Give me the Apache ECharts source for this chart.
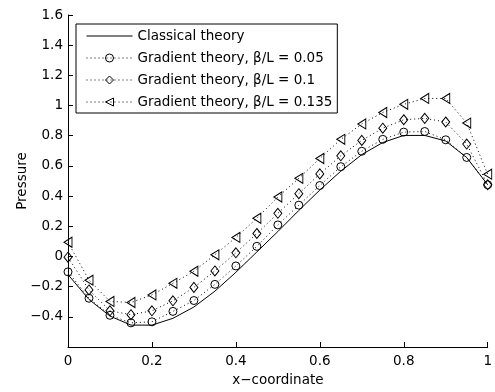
<!DOCTYPE html>
<html><head><meta charset="utf-8">
<script src="https://cdn.jsdelivr.net/npm/echarts@6/dist/echarts.min.js"></script>
<style>html,body{margin:0;padding:0;background:#fff}#c{width:495px;height:392px}</style>
</head><body><div id="c"></div>
<script>
const xValues = [0, 0.05, 0.1, 0.15, 0.2, 0.25, 0.3, 0.35, 0.4, 0.45, 0.5, 0.55, 0.6, 0.65, 0.7, 0.75, 0.8, 0.85, 0.9, 0.95, 1];
const classical = [-0.12, -0.285, -0.395, -0.455, -0.455, -0.41, -0.335, -0.23, -0.105, 0.03, 0.165, 0.305, 0.44, 0.565, 0.675, 0.755, 0.802, 0.802, 0.765, 0.655, 0.475];
const grad005 = [-0.102, -0.277, -0.39, -0.44, -0.433, -0.364, -0.292, -0.185, -0.063, 0.067, 0.209, 0.34, 0.47, 0.595, 0.697, 0.776, 0.824, 0.828, 0.773, 0.656, 0.475];
const grad010 = [-0.005, -0.222, -0.36, -0.386, -0.36, -0.294, -0.205, -0.096, 0.024, 0.152, 0.286, 0.416, 0.547, 0.667, 0.769, 0.85, 0.906, 0.915, 0.891, 0.745, 0.475];
const grad0135 = [0.094, -0.157, -0.298, -0.305, -0.255, -0.178, -0.098, 0.011, 0.126, 0.253, 0.394, 0.518, 0.649, 0.776, 0.878, 0.954, 1.008, 1.047, 1.047, 0.884, 0.545];
const seriesNames = ['Classical theory', 'Gradient theory, β/L = 0.05', 'Gradient theory, β/L = 0.1', 'Gradient theory, β/L = 0.135'];
const xAxisTitle = 'x−coordinate';
const yAxisTitle = 'Pressure';

const FONT = 'DejaVu Sans';
const FS = 13.5;
const pairs = arr => xValues.map((x, i) => [x, arr[i]]);
const fmt = v => {
  if (Math.abs(v + 0.6) < 1e-9) return '';
  return String(+v.toFixed(1)).replace('-', '\u2212');
};
const gradStyle = {
  type: 'line',
  showSymbol: true,
  lineStyle: { color: '#000', width: 1, type: [1, 3] },
  itemStyle: { color: 'rgba(0,0,0,0)', borderColor: '#000', borderWidth: 1 },
  silent: true,
  z: 3
};
const chart = echarts.init(document.getElementById('c'), null, { renderer: 'canvas' });
chart.setOption({
  animation: false,
  backgroundColor: '#fff',
  grid: { left: 68, right: 5, top: 15, bottom: 40 },
  legend: {
    left: 76, top: 24, orient: 'vertical',
    itemWidth: 46, itemHeight: 10, itemGap: 8,
    padding: [5, 5, 4, 10],
    borderColor: '#000', borderWidth: 1, backgroundColor: '#fff', borderRadius: 0,
    selectedMode: false,
    itemStyle: { borderWidth: 1 },
    lineStyle: { width: 1 },
    textStyle: { fontFamily: FONT, fontSize: FS, color: '#000' },
    data: seriesNames
  },
  xAxis: {
    type: 'value', min: 0, max: 1, interval: 0.2,
    axisLine: { onZero: false, lineStyle: { color: '#000', width: 1 } },
    axisTick: { inside: true, length: 5, lineStyle: { color: '#000' } },
    axisLabel: { color: '#000', fontFamily: FONT, fontSize: FS, margin: 7, formatter: fmt },
    splitLine: { show: false },
    name: xAxisTitle, nameLocation: 'middle', nameGap: 26, nameMoveOverlap: false,
    nameTextStyle: { color: '#000', fontFamily: FONT, fontSize: FS }
  },
  yAxis: {
    type: 'value', min: -0.6, max: 1.6, interval: 0.2,
    axisLine: { onZero: false, lineStyle: { color: '#000', width: 1 } },
    axisTick: { inside: true, length: 5, lineStyle: { color: '#000' } },
    axisLabel: { color: '#000', fontFamily: FONT, fontSize: FS, margin: 5, formatter: fmt },
    splitLine: { show: false },
    name: yAxisTitle, nameLocation: 'middle', nameGap: 39, nameMoveOverlap: false,
    nameTextStyle: { color: '#000', fontFamily: FONT, fontSize: FS }
  },
  series: [
    {
      name: seriesNames[0], type: 'line', data: pairs(classical),
      symbol: 'circle', showSymbol: false,
      lineStyle: { color: '#000', width: 1 },
      itemStyle: { color: 'rgba(0,0,0,0)', borderWidth: 0 },
      silent: true, z: 2
    },
    Object.assign({}, gradStyle, { name: seriesNames[1], data: pairs(grad005), symbol: 'circle', symbolSize: 8 }),
    Object.assign({}, gradStyle, { name: seriesNames[2], data: pairs(grad010), symbol: 'diamond', symbolSize: [8, 10] }),
    Object.assign({}, gradStyle, { name: seriesNames[3], data: pairs(grad0135), symbol: 'triangle', symbolSize: [10, 8], symbolRotate: 90 })
  ]
});
</script>
</body></html>
